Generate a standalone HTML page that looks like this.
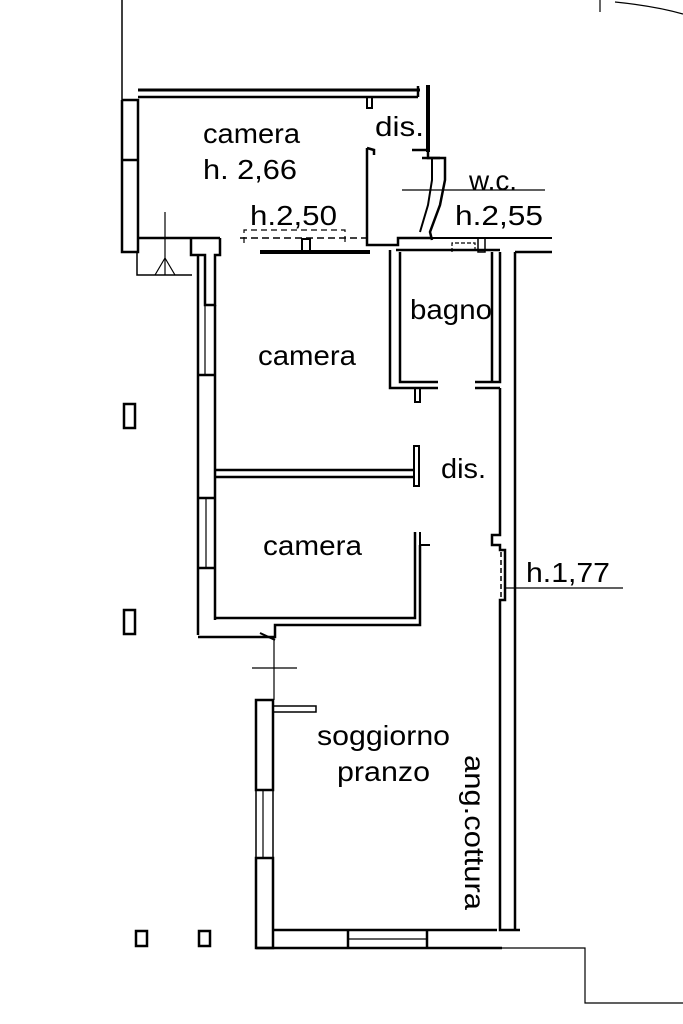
<!DOCTYPE html>
<html><head><meta charset="utf-8"><style>
body{margin:0;background:#fff}
svg{display:block}
text{font-family:"Liberation Sans",Arial,sans-serif;fill:#000}
</style></head><body>
<svg width="683" height="1024" viewBox="0 0 683 1024" xmlns="http://www.w3.org/2000/svg">
<g fill="none" stroke="#000" stroke-width="2.5">
<line x1="122" y1="0" x2="122" y2="100" stroke-width="1.5"/>
<polyline points="122,100 122,252 138,252 138,100 122,100"/>
<line x1="122" y1="160" x2="138" y2="160"/>
<line x1="138" y1="90" x2="420" y2="90" stroke-width="3"/>
<line x1="138" y1="97" x2="418" y2="97"/>
<line x1="418" y1="86" x2="418" y2="97"/>
<polyline points="367,97 367,108 372,108 372,97" stroke-width="2"/>
<line x1="428" y1="85" x2="428" y2="152" stroke-width="4"/>
<polyline points="412,150 428,150 428,158 445,158 445,180 440,205 430,232 432,240" stroke-width="2.5"/>
<polyline points="422,158 440,158"/>
<polyline points="432,158 432,180 428,205 420,232" stroke-width="2"/>
<polyline points="367,148 367,245 398,245 398,238 432,238"/>
<polyline points="367,148 374,150 374,155"/>
<line x1="138" y1="238" x2="220" y2="238"/>
<polyline points="191,238 191,255 205,255 205,305 215,305 215,255 220,255 220,238"/>
<polyline points="137,252 137,275 192,275" stroke-width="1.5"/>
<line x1="165" y1="212" x2="165" y2="275" stroke-width="1.2"/>
<path d="M155,275 L165,258 L175,275" stroke-width="1.2"/>
<line x1="240" y1="238" x2="370" y2="238" stroke-dasharray="7,4" stroke-width="1.5"/>
<polyline points="244,243 244,230 345,230 345,243" stroke-width="1.2" stroke-dasharray="6,4"/>
<line x1="260" y1="252" x2="370" y2="252" stroke-width="4"/>
<rect x="302" y="239" width="8" height="13" stroke-width="2"/>
<line x1="402" y1="190" x2="545" y2="190" stroke-width="1.2"/>
<line x1="432" y1="238" x2="552" y2="238" stroke-width="2"/>
<line x1="515" y1="252" x2="552" y2="252"/>
<polyline points="452,252 452,243 475,243 475,252" stroke-width="1.2" stroke-dasharray="4,2"/>
<rect x="478" y="238" width="7" height="14" stroke-width="1.5"/>
<polyline points="390,250 390,388 438,388"/>
<polyline points="400,252 400,382 438,382"/>
<line x1="396" y1="250" x2="500" y2="250"/>
<polyline points="415,388 415,402 420,402 420,388" stroke-width="2"/>
<polyline points="475,382 500,382 500,252"/>
<line x1="475" y1="388" x2="500" y2="388"/>
<line x1="492" y1="252" x2="492" y2="382"/>
<polyline points="500,388 500,535 492,535 492,545 500,545 500,550 505,550 505,600 500,600 500,930 520,930"/>
<line x1="515" y1="252" x2="515" y2="930"/>
<line x1="501" y1="552" x2="501" y2="600" stroke-dasharray="5,3" stroke-width="1.5"/>
<line x1="505" y1="588" x2="623" y2="588" stroke-width="1.2"/>
<line x1="198" y1="255" x2="198" y2="635"/>
<line x1="215" y1="305" x2="215" y2="620"/>
<line x1="205" y1="305" x2="205" y2="375" stroke-width="1.2"/>
<line x1="198" y1="375" x2="215" y2="375"/>
<line x1="198" y1="498" x2="215" y2="498"/>
<line x1="198" y1="568" x2="215" y2="568"/>
<line x1="206" y1="498" x2="206" y2="568" stroke-width="1.2"/>
<line x1="215" y1="470" x2="415" y2="470"/>
<line x1="215" y1="477" x2="415" y2="477"/>
<rect x="414" y="446" width="5" height="40" stroke-width="2"/>
<polyline points="415,532 415,618 215,618"/>
<polyline points="420,532 420,545 430,545" stroke-width="2"/>
<polyline points="420,545 420,625 275,625 275,637 198,637"/>
<line x1="260" y1="633" x2="275" y2="640" stroke-width="2"/>
<line x1="274" y1="637" x2="274" y2="700" stroke-width="1.2"/>
<line x1="252" y1="668" x2="297" y2="668" stroke-width="1.2"/>
<rect x="256" y="700" width="17" height="90" stroke-width="2.5"/>
<rect x="256" y="858" width="17" height="90" stroke-width="2.5"/>
<line x1="256" y1="790" x2="256" y2="858" stroke-width="1.5"/>
<line x1="263" y1="790" x2="263" y2="858" stroke-width="1.2"/>
<line x1="273" y1="790" x2="273" y2="858" stroke-width="1.5"/>
<rect x="273" y="706" width="43" height="6" stroke-width="1.5"/>
<line x1="273" y1="930" x2="497" y2="930"/>
<line x1="256" y1="948" x2="502" y2="948"/>
<line x1="348" y1="930" x2="348" y2="948"/>
<line x1="427" y1="930" x2="427" y2="948"/>
<line x1="348" y1="939" x2="427" y2="939" stroke-width="1.2"/>
<polyline points="502,948 585,948 585,1003 683,1003" stroke-width="1.2"/>
<rect x="124" y="404" width="11" height="24"/>
<rect x="124" y="610" width="11" height="24"/>
<rect x="136" y="931" width="11" height="15"/>
<rect x="199" y="931" width="11" height="15"/>
<line x1="600" y1="0" x2="600" y2="12" stroke-width="1.2"/>
<path d="M615,2 Q655,6 683,14" stroke-width="1.2"/>
</g>
<g font-size="28">
<text x="203" y="143" textLength="97" lengthAdjust="spacingAndGlyphs">camera</text>
<text x="203" y="179" textLength="94" lengthAdjust="spacingAndGlyphs">h. 2,66</text>
<text x="375" y="136" textLength="49" lengthAdjust="spacingAndGlyphs">dis.</text>
<text x="469" y="190" textLength="48" lengthAdjust="spacingAndGlyphs">w.c.</text>
<text x="455" y="225" textLength="88" lengthAdjust="spacingAndGlyphs">h.2,55</text>
<text x="250" y="225" textLength="87" lengthAdjust="spacingAndGlyphs">h.2,50</text>
<text x="410" y="319" textLength="82" lengthAdjust="spacingAndGlyphs">bagno</text>
<text x="258" y="365" textLength="98" lengthAdjust="spacingAndGlyphs">camera</text>
<text x="441" y="478" textLength="45" lengthAdjust="spacingAndGlyphs">dis.</text>
<text x="263" y="555" textLength="99" lengthAdjust="spacingAndGlyphs">camera</text>
<text x="526" y="582" textLength="84" lengthAdjust="spacingAndGlyphs">h.1,77</text>
<text x="317" y="745" textLength="133" lengthAdjust="spacingAndGlyphs">soggiorno</text>
<text x="337" y="781" textLength="93" lengthAdjust="spacingAndGlyphs">pranzo</text>
<text transform="translate(465,755) rotate(90)" textLength="155" lengthAdjust="spacingAndGlyphs">ang.cottura</text>
</g>
</svg>
</body></html>
